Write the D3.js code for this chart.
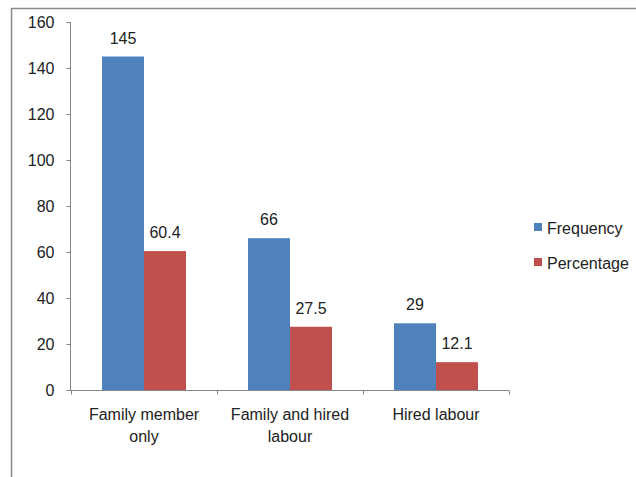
<!DOCTYPE html>
<html><head><meta charset="utf-8">
<script src="https://cdn.jsdelivr.net/npm/d3@7"></script>
<style>body{margin:0;background:#fff}svg{display:block}text{font-family:"Liberation Sans",Arial,sans-serif;fill:#222}</style>
</head><body>
<script>
const categories = [["Family member","only"],["Family and hired","labour"],["Hired labour"]];
const seriesNames = ["Frequency","Percentage"];
const frequency = [145, 66, 29];
const percentage = [60.4, 27.5, 12.1];
const percentageLabels = ["60.4","27.5","12.1"];
const yTicks = [0,20,40,60,80,100,120,140,160];
const colors = ["#4F81BD","#C0504D"];

const W=636,H=477,FS=16;
const svg=d3.select("body").append("svg").attr("width",W).attr("height",H);
// outer frame
svg.append("path").attr("d","M11.5,477 V8.5 H636").attr("fill","none").attr("stroke","#8a8a8a").attr("stroke-width",1.5);

const x0=d3.scaleBand().domain(d3.range(categories.length)).range([71,509]).paddingInner(0).paddingOuter(0);
const y=d3.scaleLinear().domain([0,160]).range([390,22]);
const barW=42;

// y axis
const yAxis=svg.append("g").attr("transform","translate(70.5,0)")
  .call(d3.axisLeft(y).tickValues(yTicks).tickSize(4).tickPadding(12));
yAxis.selectAll("path,line").attr("stroke","#868686");
yAxis.select(".domain").attr("d","M0,"+y(160)+"V"+y(0));
yAxis.selectAll("text").attr("font-size",FS).attr("font-family","Liberation Sans, Arial, sans-serif").attr("fill","#222");

// x axis
const xg=svg.append("g").attr("transform","translate(0,390.5)");
xg.append("line").attr("x1",70).attr("x2",509).attr("stroke","#868686");
const xt=[0,1,2,3].map(i=> i<3? x0(i): x0.range()[1]);
xg.selectAll("line.t").data(xt).join("line").attr("class","t")
  .attr("x1",d=>Math.round(d)+0.5).attr("x2",d=>Math.round(d)+0.5).attr("y1",0).attr("y2",4).attr("stroke","#868686");

const data=[frequency,percentage];
const labels=[frequency.map(String),percentageLabels];
data.forEach((vals,s)=>{
  const g=svg.append("g");
  g.selectAll("rect").data(vals).join("rect")
    .attr("x",(d,i)=>x0(i)+x0.bandwidth()/2-barW+s*barW)
    .attr("width",barW)
    .attr("y",d=>y(d)).attr("height",d=>y(0)-y(d))
    .attr("fill",colors[s]);
  g.selectAll("text").data(vals).join("text")
    .attr("x",(d,i)=>x0(i)+x0.bandwidth()/2-barW/2+s*barW)
    .attr("y",d=>y(d)-13)
    .attr("text-anchor","middle").attr("font-size",FS)
    .text((d,i)=>labels[s][i]);
});

// category labels
categories.forEach((lines,i)=>{
  const t=svg.append("text").attr("x",x0(i)+x0.bandwidth()/2).attr("y",420).attr("text-anchor","middle").attr("font-size",FS);
  lines.forEach((l,j)=>t.append("tspan").attr("x",x0(i)+x0.bandwidth()/2).attr("dy",j?22:0).text(l));
});

// legend
const lg=svg.append("g");
seriesNames.forEach((n,i)=>{
  lg.append("rect").attr("x",534).attr("y",223+i*35).attr("width",8).attr("height",8).attr("fill",colors[i]);
  lg.append("text").attr("x",547).attr("y",234+i*35).attr("font-size",FS).text(n);
});
</script>
</body></html>
